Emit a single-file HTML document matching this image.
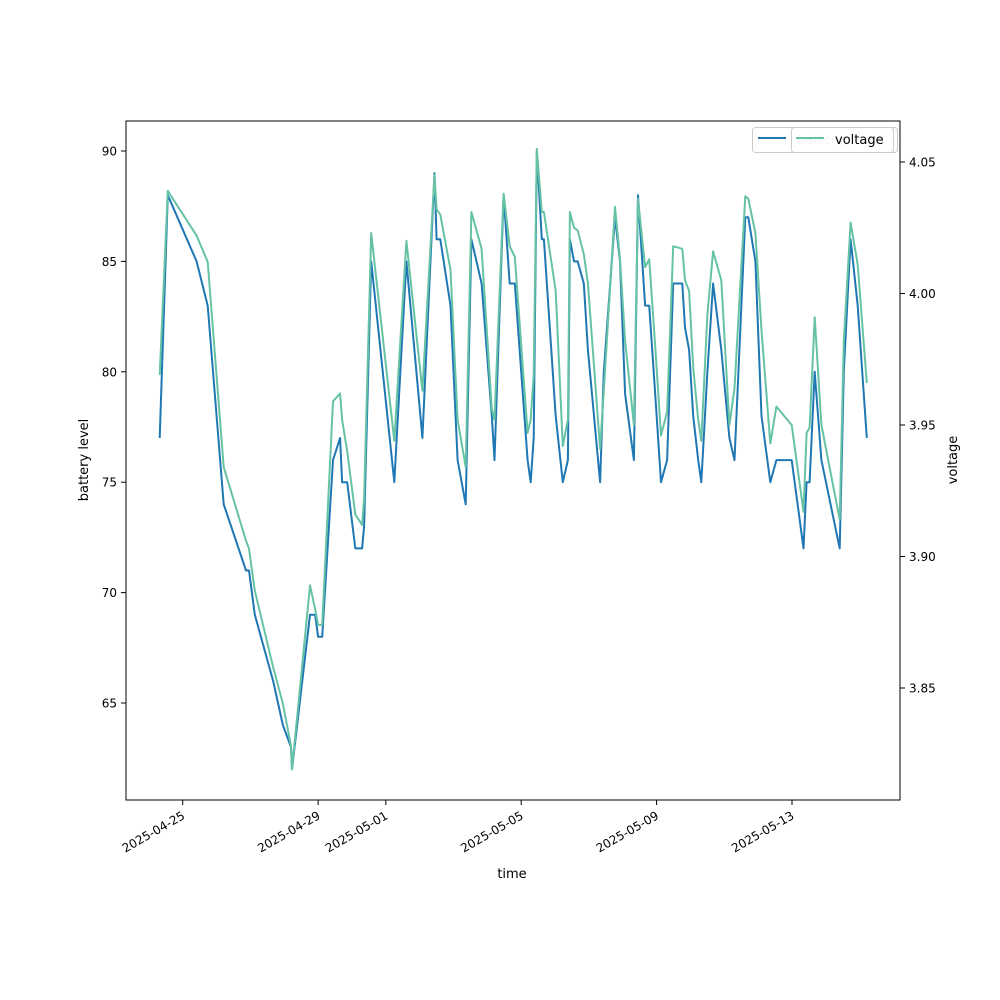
<!DOCTYPE html>
<html><head><meta charset="utf-8"><style>
html,body{margin:0;padding:0;background:#fff;}
svg{display:block;font-family:"DejaVu Sans","Liberation Sans",sans-serif;}
</style></head><body>
<svg id="chart" width="1000" height="1000" viewBox="0 0 1000 1000">
<rect x="0" y="0" width="1000" height="1000" fill="#fff"/>
<g id="gridlayer"></g>
<g id="series"></g>
<rect x="126" y="121" width="774" height="679" fill="none" stroke="#000" stroke-width="1"/>
<g id="axes"></g>
<text x="88" y="460" font-size="13" text-anchor="middle" transform="rotate(-90 88 460)">battery level</text>
<text x="957" y="460" font-size="13" text-anchor="middle" transform="rotate(-90 957 460)">voltage</text>
<text x="512" y="878" font-size="13" text-anchor="middle">time</text>
<g>
<rect x="752.5" y="127.5" width="145" height="25" rx="3" fill="#fff" fill-opacity="0.8" stroke="#ccc"/>
<line x1="758" y1="138" x2="786" y2="138" stroke="#1f77b4" stroke-width="2"/>
<text x="797" y="144" font-size="13" fill="#ccc">battery_level</text>
</g>
<g>
<rect x="791.5" y="127.5" width="102" height="25" rx="3" fill="#fff" fill-opacity="0.8" stroke="#ccc"/>
<line x1="796" y1="138" x2="824" y2="138" stroke="#66c2a5" stroke-width="2"/>
<text x="835" y="144" font-size="13" fill="#000">voltage</text>
</g>
</svg>
<script>
// time in days since 2025-04-25
const times = [-0.68,-0.44,0.41,0.74,1.21,1.87,1.96,2.13,2.67,2.96,3.20,3.23,3.76,3.91,4.00,4.12,4.44,4.65,4.71,4.86,5.10,5.30,5.36,5.57,6.25,6.61,7.08,7.44,7.50,7.61,7.91,8.12,8.36,8.53,8.83,9.13,9.21,9.48,9.66,9.81,10.19,10.28,10.37,10.46,10.61,10.67,11.02,11.23,11.38,11.44,11.56,11.67,11.85,11.97,12.33,12.44,12.77,12.92,13.07,13.33,13.45,13.66,13.78,13.96,14.13,14.31,14.49,14.76,14.84,14.96,15.08,15.23,15.32,15.50,15.67,15.91,16.15,16.30,16.62,16.71,16.92,17.10,17.36,17.54,17.99,18.34,18.43,18.52,18.67,18.87,19.41,19.53,19.73,19.94,20.21];
const battery = [77,88,85,83,74,71,71,69,66,64,63,62,69,69,68,68,76,77,75,75,72,72,73,85,75,85,77,89,86,86,83,76,74,86,84,78,76,88,84,84,76,75,77,90,86,86,78,75,76,86,85,85,84,81,75,80,87,85,79,76,88,83,83,79,75,76,84,84,82,81,78,76,75,80,84,81,77,76,87,87,85,78,75,76,76,72,75,75,80,76,72,80,86,83,77];
const voltage = [3.969,4.039,4.022,4.012,3.934,3.906,3.903,3.887,3.858,3.844,3.828,3.819,3.889,3.880,3.874,3.874,3.959,3.962,3.952,3.940,3.916,3.912,3.922,4.023,3.944,4.020,3.963,4.045,4.032,4.030,4.009,3.952,3.934,4.031,4.017,3.956,3.952,4.038,4.018,4.014,3.947,3.952,3.969,4.055,4.031,4.031,4.001,3.942,3.952,4.031,4.025,4.024,4.015,4.004,3.941,3.963,4.033,4.013,3.982,3.950,4.036,4.010,4.013,3.980,3.946,3.955,4.018,4.017,4.005,4.001,3.972,3.952,3.944,3.992,4.016,4.005,3.950,3.964,4.037,4.036,4.023,3.986,3.943,3.957,3.950,3.917,3.947,3.949,3.991,3.950,3.914,3.982,4.027,4.011,3.966];
const xTickDays = [0,4,6,10,14,18];
const xTickLabels = ["2025-04-25","2025-04-29","2025-05-01","2025-05-05","2025-05-09","2025-05-13"];
const leftTicks = [65,70,75,80,85,90];
const rightTicks = [3.85,3.90,3.95,4.00,4.05];

const NS="http://www.w3.org/2000/svg";
const X = d => 182.7 + d*33.85;
const YL = v => 151 + (90 - v)*22.08;
const YR = v => 162 + (4.05 - v)*2630;

function mk(tag, attrs, parent){const e=document.createElementNS(NS,tag);for(const k in attrs)e.setAttribute(k,attrs[k]);parent.appendChild(e);return e;}
const series=document.getElementById('series');
const axes=document.getElementById('axes');

const bl = mk('polyline',{points:times.map((t,i)=>X(t).toFixed(1)+','+YL(battery[i]).toFixed(1)).join(' '),fill:'none',stroke:'#1f77b4','stroke-width':2,'stroke-linejoin':'round'},series);


const vl = mk('polyline',{points:times.map((t,i)=>X(t).toFixed(1)+','+YR(voltage[i]).toFixed(1)).join(' '),fill:'none',stroke:'#66c2a5','stroke-width':2,'stroke-linejoin':'round'},series);



xTickDays.forEach((d,i)=>{
  const x=X(d);
  const t=mk('line',{x1:x,y1:800,x2:x,y2:805,stroke:'#000'},axes);
  
  
  const lb=mk('text',{x:x+3,y:818,'font-size':12,'text-anchor':'end',transform:`rotate(-30 ${x+3} 818)`},axes);
  lb.textContent=xTickLabels[i];
  
  
});
leftTicks.forEach(v=>{
  const y=YL(v);
  const t=mk('line',{x1:121,y1:y,x2:126,y2:y,stroke:'#000'},axes);
  
  
  const lb=mk('text',{x:117,y:y+4.5,'font-size':12,'text-anchor':'end'},axes);
  lb.textContent=v;
  
  
});
rightTicks.forEach(v=>{
  const y=YR(v);
  const t=mk('line',{x1:900,y1:y,x2:905,y2:y,stroke:'#000'},axes);
  
  
  const lb=mk('text',{x:909,y:y+4.5,'font-size':12,'text-anchor':'start'},axes);
  lb.textContent=v.toFixed(2);
  
  
});
</script>
</body></html>
